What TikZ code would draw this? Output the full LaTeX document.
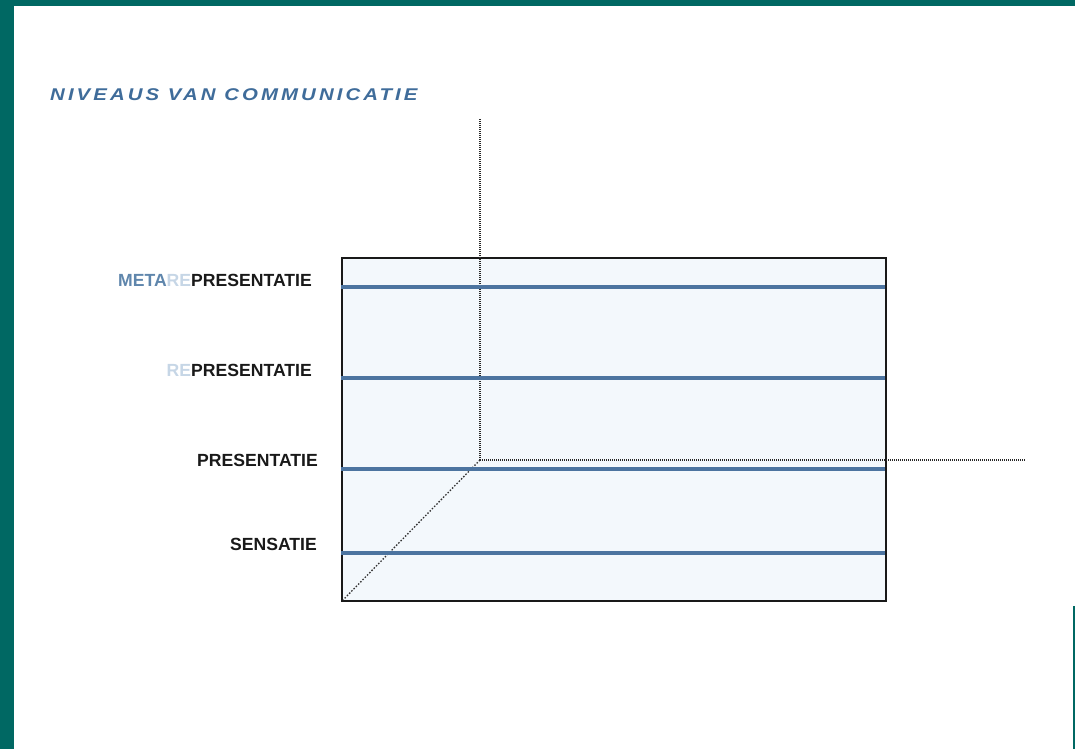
\documentclass[tikz,border=0pt]{standalone}
\usepackage{fontspec}
\setmainfont{Liberation Sans}
\usetikzlibrary{positioning}
\definecolor{teal1}{HTML}{006863}
\definecolor{boxfill}{HTML}{F3F8FC}
\definecolor{lvl}{HTML}{4C74A0}
\definecolor{titleblue}{HTML}{3F6C9A}
\definecolor{metablue}{HTML}{5F86AC}
\definecolor{relight}{HTML}{C6D6E6}
\tikzset{
  level/.style={draw=lvl, line width=3.8pt},
  axis/.style={draw=black!85, line width=1.3pt, dash pattern=on 1pt off 1pt},
  diagaxis/.style={draw=black!80, line width=1.3pt, dash pattern=on 1.5pt off 1.7pt},
  lab/.style={anchor=base east, inner sep=0pt, font=\fontsize{17.6}{20}\selectfont\bfseries, text=black!90},
}
\begin{document}
\begin{tikzpicture}[x=1pt,y=-1pt]
\useasboundingbox (0,0) rectangle (1075,749);
% frame
\fill[teal1] (0,0) rectangle (1075,6);
\fill[teal1] (0,0) rectangle (14,749);
\draw[teal1, line width=2pt] (1074,606) -- (1074,749);
% title
\node[anchor=base west, inner sep=0pt, text=titleblue, xscale=1.2, font=\fontsize{17}{18}\selectfont\bfseries\itshape\addfontfeature{LetterSpace=15}] (title) at (50,101) {NIVEAUS VAN COMMUNICATIE};
% box
\node[draw=black!90, line width=2pt, fill=boxfill, minimum width=544pt, minimum height=343pt, anchor=north west, inner sep=0pt] (box) at (341,257) {};
% axes
\coordinate (o) at (480,460);
\coordinate (ytop) at (480,118);
\coordinate (xend) at (1025,460);
\coordinate (zend) at (343,600);
\draw[axis] (o) -- (ytop);
\draw[axis] (o) -- (xend);
\draw[diagaxis] (o) -- (zend);
% levels
\coordinate (l1a) at (341,287); \coordinate (l1b) at (885,287);
\coordinate (l2a) at (341,378); \coordinate (l2b) at (885,378);
\coordinate (l3a) at (341,469); \coordinate (l3b) at (885,469);
\coordinate (l4a) at (341,553); \coordinate (l4b) at (885,553);
\draw[level] (l1a) -- (l1b);
\draw[level] (l2a) -- (l2b);
\draw[level] (l3a) -- (l3b);
\draw[level] (l4a) -- (l4b);
% labels
\node[lab] (meta) at (312,286) {\textcolor{metablue}{META}\textcolor{relight}{RE}PRESENTATIE};
\node[lab] (repr) at (312,376) {\textcolor{relight}{RE}PRESENTATIE};
\node[lab] (pres) at (318,466) {PRESENTATIE};
\node[lab] (sens) at (317,550) {SENSATIE};
\end{tikzpicture}
\end{document}
